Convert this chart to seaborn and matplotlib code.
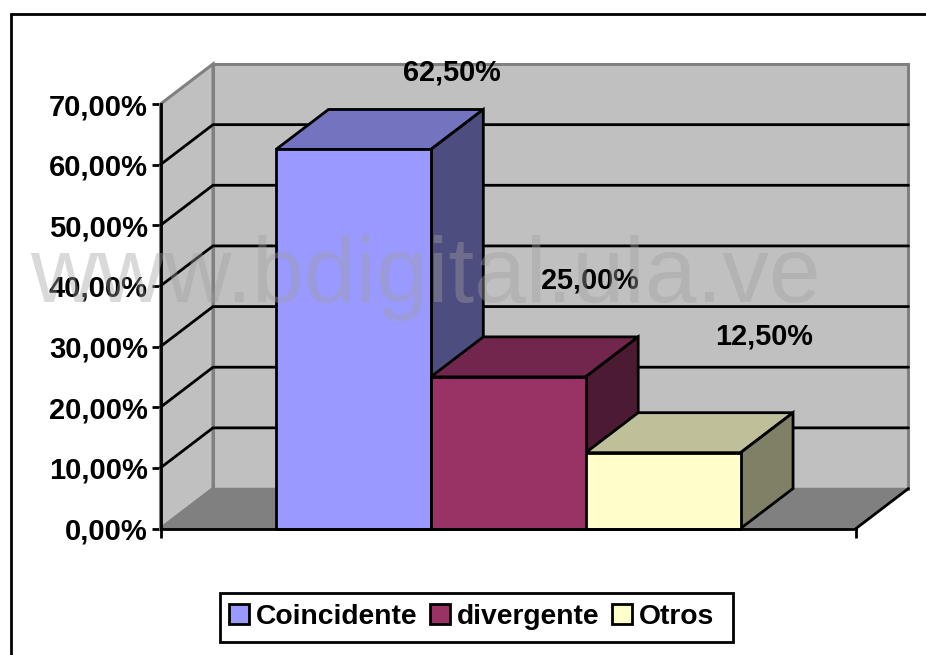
import matplotlib
matplotlib.use('AGG')
import matplotlib.pyplot as plt
from matplotlib.colors import to_rgb
from matplotlib.lines import Line2D
from matplotlib.patches import Polygon, Rectangle
import pandas as pd
import seaborn as sns

series = ['Coincidente', 'divergente', 'Otros']
values = [0.625, 0.25, 0.125]
colors = ['#9999FF', '#993366', '#FFFFCC']
y_ticks = [0.0, 0.1, 0.2, 0.3, 0.4, 0.5, 0.6, 0.7]
label_offsets = [(98, 77), (82, 96), (101, 116)]

W, H = 926, 655
PT = 0.72  # px to points at dpi 100
LEFT, RIGHT, BOTTOM, TOP = 160.5, 856.0, 528.5, 104.0
DEPTH_X, DEPTH_Y = 52.5, 40.0
LW = 2.0

sns.set_theme(style='white')
plt.rcParams['font.family'] = ['Liberation Sans', 'DejaVu Sans']

fig = plt.figure(figsize=(W / 100, H / 100), dpi=100, facecolor='white')
ax = fig.add_axes([LEFT / W, 1 - BOTTOM / H, (RIGHT - LEFT) / W, (BOTTOM - TOP) / H])
ax.patch.set_visible(False)

d = pd.DataFrame({'cat': [''] * 3, 'serie': series, 'valor': values})
sns.barplot(data=d, x='cat', y='valor', hue='serie', hue_order=series, palette=colors,
            width=0.668, saturation=1, edgecolor='black', linewidth=LW, ax=ax, zorder=10)
ax.set_xlim(-0.5, 0.5)
ax.set_ylim(0, 0.7)
ax.set_xlabel('')
ax.set_ylabel('')

depth_x = DEPTH_X / (RIGHT - LEFT)
depth_y = DEPTH_Y / (BOTTOM - TOP) * 0.7


def face(points, color, edge, lw=LW, z=1):
    ax.add_patch(Polygon(points, closed=True, facecolor=color, edgecolor=edge, linewidth=lw,
                         zorder=z, clip_on=False, joinstyle='miter'))


def shade(color, k):
    return tuple(c * k for c in to_rgb(color))


# walls and floor
x0, x1 = -0.5, 0.5
ymax = 0.7
bx0, bx1 = x0 + depth_x, x1 + depth_x
face([(bx0, depth_y), (bx1, depth_y), (bx1, ymax + depth_y), (bx0, ymax + depth_y)], '#C0C0C0', '#808080', 2.2)
face([(x0, 0), (bx0, depth_y), (bx0, ymax + depth_y), (x0, ymax)], '#C0C0C0', '#808080', 2.2)
face([(x0, 0), (x1, 0), (bx1, depth_y), (bx0, depth_y)], '#808080', '#808080', 1.0, z=2)
ax.plot([x1, bx1], [0, depth_y], color='black', lw=LW, zorder=3, clip_on=False)

for t in y_ticks[1:-1]:
    ax.plot([x0, bx0, bx1], [t, t + depth_y, t + depth_y], color='black', lw=LW, zorder=2,
            clip_on=False, solid_joinstyle='miter')

# side and top faces of the bars, taken from what seaborn drew
bars = [p for p in ax.patches if p.get_zorder() == 10 and p.get_height() > 0]
bars = sorted(bars, key=lambda p: p.get_x())
for i, (bar, color) in enumerate(zip(bars, colors)):
    a, b, top = bar.get_x(), bar.get_x() + bar.get_width(), bar.get_height()
    z = 4 + i * 2
    bar.set_zorder(z + 1)
    bar.set_clip_on(False)
    face([(a, top), (b, top), (b + depth_x, top + depth_y), (a + depth_x, top + depth_y)], shade(color, 0.75), 'black', z=z)
    face([(b, 0), (b + depth_x, depth_y), (b + depth_x, top + depth_y), (b, top)], shade(color, 0.5), 'black', z=z)
    xc = a + (b - a) / 2
    ox, oy = label_offsets[i]
    ax.annotate(f'{values[i] * 100:.2f}%'.replace('.', ','), xy=(xc, top), xytext=(ox * PT, oy * PT),
                textcoords='offset points', ha='center', va='center', fontsize=20.8,
                fontweight='bold', color='black', zorder=20, annotation_clip=False)

# axes
for s in ['top', 'right']:
    ax.spines[s].set_visible(False)
for s in ['left', 'bottom']:
    ax.spines[s].set_color('black')
    ax.spines[s].set_linewidth(LW)
    ax.spines[s].set_zorder(15)
ax.set_yticks(y_ticks)
ax.set_yticklabels([f'{t * 100:.2f}%'.replace('.', ',') for t in y_ticks], fontsize=21, fontweight='bold', color='black')
ax.set_xticks([x0, x1])
ax.set_xticklabels(['', ''])
ax.tick_params(axis='both', which='major', direction='out', length=9 * PT, width=LW, color='black',
               left=True, bottom=True, pad=2.6)

# legend, its box is drawn apart because the reference has more room on the right
old = ax.get_legend()
if old is not None:
    old.remove()
fig.add_artist(Rectangle((220 / W, 1 - 642 / H), 513 / W, 49 / H, transform=fig.transFigure,
                         facecolor='white', edgecolor='black', linewidth=LW))
handles = [plt.Rectangle((0, 0), 1, 1, facecolor=c, edgecolor='black', linewidth=LW) for c in colors]
leg = fig.legend(handles, series, ncol=3, loc='center left', bbox_to_anchor=(229 / W, 1 - 617 / H),
                 frameon=False, labelcolor='black', prop={'size': 20.3, 'weight': 'bold'},
                 handlelength=0.72, handleheight=0.72, handletextpad=0.22, columnspacing=0.46,
                 borderpad=0, borderaxespad=0)

# outer border, cut by the image edges
fig.add_artist(Line2D([11.2 / W, 11.2 / W, 1], [0, 1 - 14 / H, 1 - 14 / H], color='black', lw=LW,
                      solid_joinstyle='miter'))

fig.text(425 / W, 1 - 302 / H, 'www.bdigital.ula.ve', fontsize=67, color='#A0A0A0', alpha=0.4,
         ha='center', va='baseline', zorder=50)

fig.savefig('out.png', dpi=100)
